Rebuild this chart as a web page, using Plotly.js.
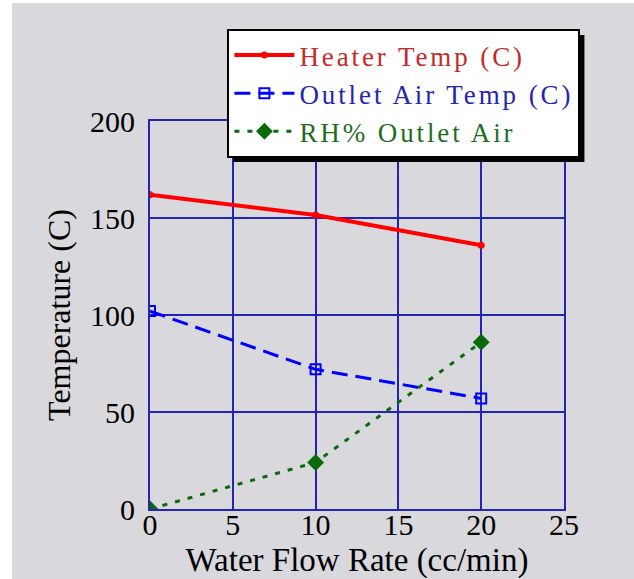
<!DOCTYPE html>
<html><head><meta charset="utf-8">
<script src="https://cdn.plot.ly/plotly-3.0.1.min.js"></script>
<style>html,body{margin:0;padding:0;background:#fff;}#chart{position:absolute;left:12px;top:3px;width:622px;height:576px;}
.legendtext{letter-spacing:2.9px;}</style>
</head><body><div id="chart"></div>
<script>
const flowRate = [0, 10, 20];
const heaterTemp = [162, 151.5, 136];
const outletAirTemp = [102, 72, 57];
const rhOutletAir = [0, 24, 86];
const xTicks = [0, 5, 10, 15, 20, 25];
const yTicks = [0, 50, 100, 150, 200];
const serif = 'Liberation Serif, Times New Roman, serif';
const grid = '#2323b4';

const traces = [
  {x: flowRate, y: heaterTemp, mode: 'lines+markers', name: '<span style="color:#c52a2a">Heater Temp (C)</span>',
   line: {color: '#ff0000', width: 4}, marker: {symbol: 'circle', size: 7, color: '#ff0000'}},
  {x: flowRate, y: outletAirTemp, mode: 'lines+markers', name: '<span style="color:#2525b0">Outlet Air Temp (C)</span>',
   line: {color: '#0000ff', width: 3, dash: '16px,8px'}, marker: {symbol: 'square-open', size: 10, color: '#0000ff', line: {width: 2}}},
  {x: flowRate, y: rhOutletAir, mode: 'lines+markers', name: '<span style="color:#1e6e1e">RH% Outlet Air</span>',
   line: {color: '#0a6a0a', width: 3, dash: '5px,8px'}, marker: {symbol: 'diamond', size: 13, color: '#0a6a0a'}}
];

const layout = {
  width: 622, height: 576,
  paper_bgcolor: '#d9d8dc', plot_bgcolor: '#d9d8dc',
  margin: {l: 138, r: 70, t: 118, b: 70},
  showlegend: true,
  font: {family: serif, color: '#000'},
  xaxis: {range: [0, 25], tickvals: xTicks, ticktext: xTicks.map(String), showgrid: true, gridcolor: grid, gridwidth: 2,
    showline: true, mirror: true, linecolor: grid, linewidth: 2, zeroline: false, ticks: '',
    tickfont: {family: serif, size: 30, color: '#000'}, ticklabelstandoff: -12,
    title: {text: 'Water Flow Rate (cc/min)', font: {family: serif, size: 33, color: '#000'}, standoff: 9}},
  yaxis: {range: [0, 200], tickvals: yTicks, ticktext: yTicks.map(String), showgrid: true, gridcolor: grid, gridwidth: 2,
    showline: true, mirror: true, linecolor: grid, linewidth: 2, zeroline: false, ticks: '',
    tickfont: {family: serif, size: 30, color: '#000'}, ticklabelstandoff: 7,
    title: {text: 'Temperature (C)', font: {family: serif, size: 32, color: '#000'}, standoff: 10}},
  legend: {x: 0.187, y: 1.237, xanchor: 'left', yanchor: 'top', bgcolor: '#ffffff', bordercolor: '#000', borderwidth: 2,
    font: {family: serif, size: 27}, itemwidth: 60, tracegroupgap: 0},
  shapes: []
};
const gd = document.getElementById('chart');
Plotly.newPlot(gd, traces, layout, {displayModeBar: false, staticPlot: true}).then(function () {
  const bg = gd.querySelector('.legend .bg');
  if (!bg) return;
  const r = bg.getBoundingClientRect();
  const c = gd.getBoundingClientRect();
  const s = gd._fullLayout._size;
  const off = 5;
  const px = v => (v - c.left - s.l) / s.w;
  const py = v => 1 - (v - c.top - s.t) / s.h;
  return Plotly.relayout(gd, {shapes: [{type: 'rect', xref: 'paper', yref: 'paper',
    x0: px(r.left + off), x1: px(r.right + off), y0: py(r.bottom + off), y1: py(r.top + off),
    fillcolor: '#000', line: {width: 0}, layer: 'above'}]});
});
</script></body></html>
